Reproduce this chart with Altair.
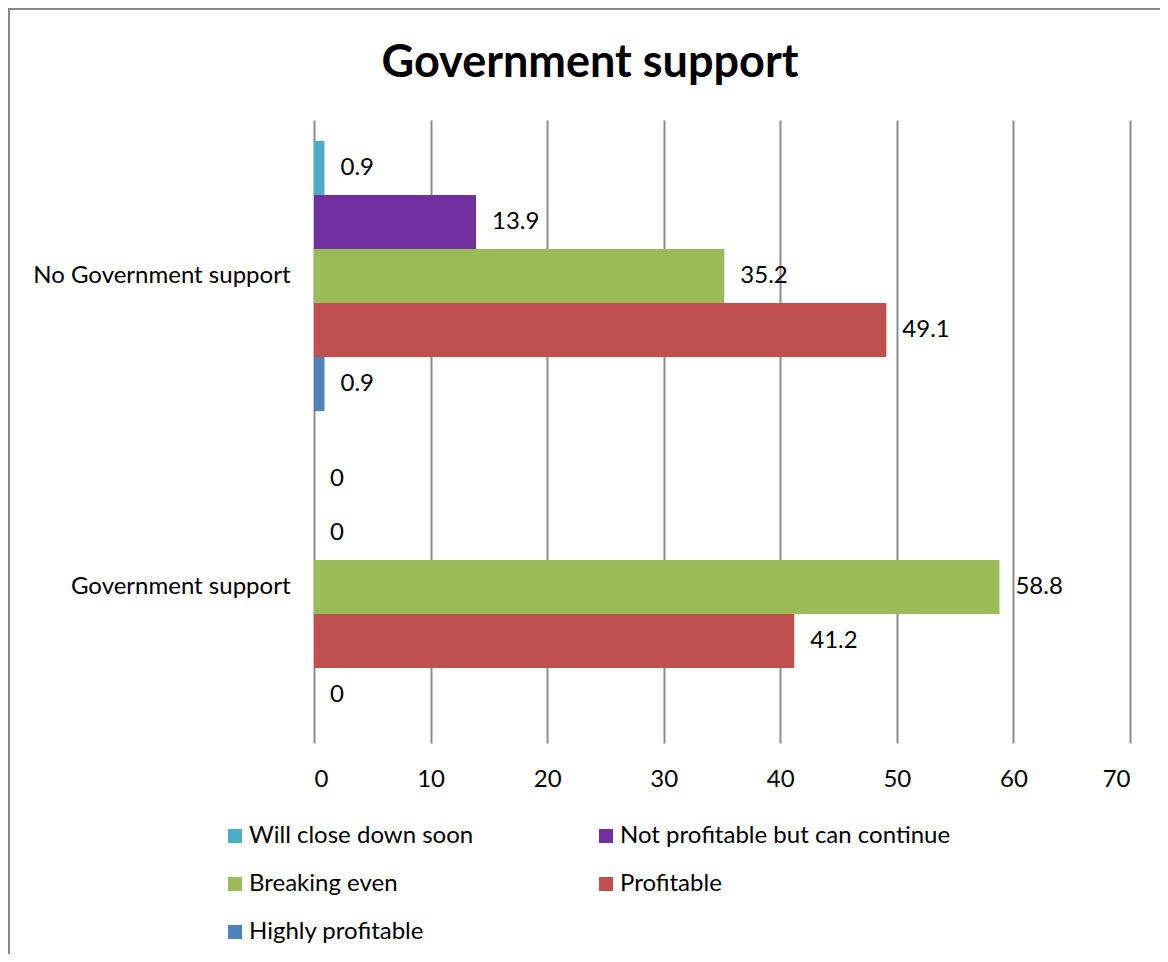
import altair as alt
import pandas as pd

categories = ["No Government support", "Government support"]
statuses = ["Will close down soon", "Not profitable but can continue", "Breaking even", "Profitable", "Highly profitable"]
colors = ["#4BACC6", "#7030A0", "#9BBB59", "#C0504D", "#4F81BD"]
no_support = [0.9, 13.9, 35.2, 49.1, 0.9]
support = [0, 0, 58.8, 41.2, 0]

rows = []
for cat, vals in zip(categories, [no_support, support]):
    for s, v in zip(statuses, vals):
        rows.append({"category": cat, "status": s, "value": v})
df = pd.DataFrame(rows)

FONT = "Lato"
FS = 24

base = alt.Chart(df).encode(
    y=alt.Y("category:N", sort=categories, title=None,
            scale=alt.Scale(paddingInner=0.132, paddingOuter=0.0675),
            axis=alt.Axis(domain=False, ticks=False, labelFontSize=FS, labelFont=FONT,
                          labelColor="black", labelPadding=24, labelLimit=0)),
    yOffset=alt.YOffset("status:N", sort=statuses,
                        scale=alt.Scale(paddingInner=0, paddingOuter=0)),
)

bars = base.mark_bar().encode(
    x=alt.X("value:Q", title=None, scale=alt.Scale(domain=[0, 70]),
            axis=alt.Axis(values=list(range(0, 71, 10)), domain=False, ticks=False,
                          grid=True, gridColor="#8c8c8c", gridWidth=2,
                          labelFontSize=FS, labelFont=FONT, labelColor="black",
                          labelPadding=24)),
    color=alt.Color("status:N", sort=statuses,
                    scale=alt.Scale(domain=statuses, range=colors),
                    legend=alt.Legend(title=None, orient="none", legendX=-91, legendY=704,
                                      columns=2, direction="horizontal",
                                      symbolType="square", symbolSize=196,
                                      symbolStrokeWidth=0, labelFontSize=FS, labelFont=FONT,
                                      labelColor="black", rowPadding=24, columnPadding=120,
                                      labelOffset=2, labelLimit=0)),
)

labels = base.mark_text(align="left", dx=16, fontSize=FS, font=FONT, color="black").encode(
    x=alt.X("value:Q"),
    text=alt.Text("value:Q", format=".1~f"),
)

frame = alt.Chart(alt.Data(values=[{}])).mark_rect(
    fill="transparent", stroke="#898989", strokeWidth=2
).encode(x=alt.value(-305), x2=alt.value(1000), y=alt.value(-111), y2=alt.value(1000))

chart = alt.layer(frame, bars, labels).properties(
    width=816, height=623,
    title=alt.TitleParams("Government support", fontSize=45, font=FONT, fontWeight="bold",
                          anchor="middle", frame="group", dx=-132, offset=-78, color="black"),
    autosize=alt.AutoSizeParams(type="none"),
    padding={"left": 306, "top": 112, "right": 30, "bottom": 211},
).configure_view(stroke=None)

chart.save("out.html", embed_options={"renderer": "svg", "actions": False})
